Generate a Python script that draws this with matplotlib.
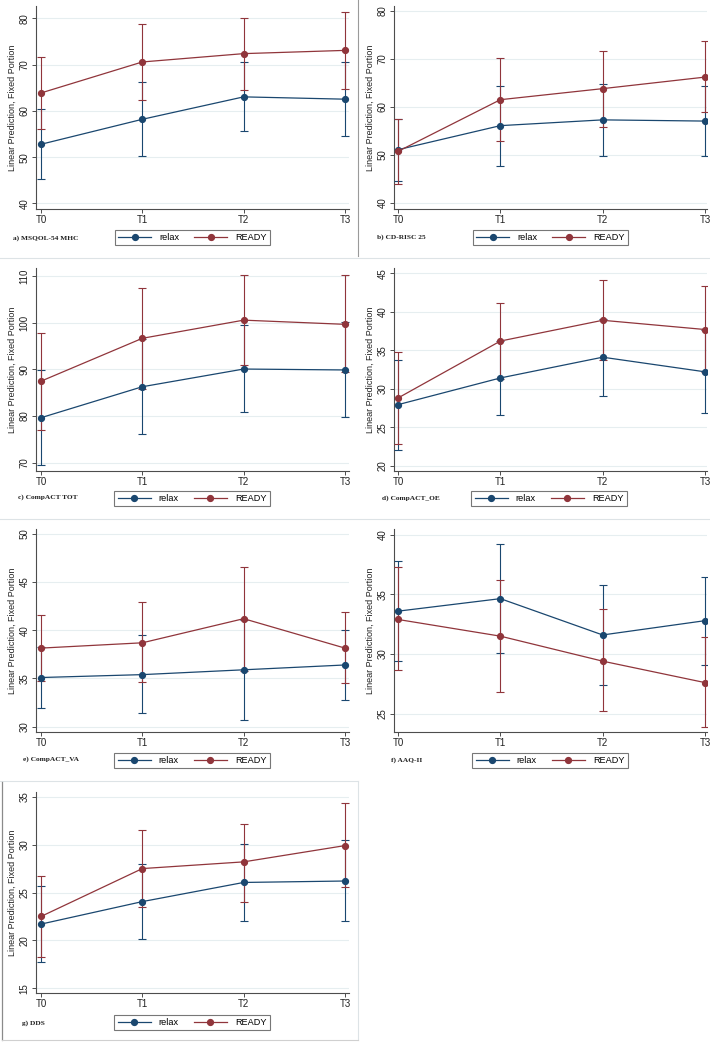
import matplotlib
matplotlib.use("Agg")
import matplotlib.pyplot as plt
from matplotlib.lines import Line2D

plt.rcParams['font.family'] = ['Liberation Sans', 'DejaVu Sans']

times = ["T0", "T1", "T2", "T3"]
groups = ["relax", "READY"]

# a) MSQOL-54 MHC
mhc_relax = [52.8, 58.2, 63.05, 62.55]
mhc_relax_lo = [45.2, 50.2, 55.6, 54.55]
mhc_relax_hi = [60.4, 66.2, 70.6, 70.6]
mhc_ready = [63.9, 70.6, 72.4, 73.1]
mhc_ready_lo = [56.2, 62.3, 64.6, 64.8]
mhc_ready_hi = [71.6, 78.9, 80.2, 81.4]

# b) CD-RISC 25
cdr_relax = [51.1, 56.1, 57.3, 57.05]
cdr_relax_lo = [44.5, 47.8, 49.7, 49.85]
cdr_relax_hi = [57.5, 64.4, 64.8, 64.3]
cdr_ready = [50.75, 61.5, 63.8, 66.2]
cdr_ready_lo = [44.0, 52.9, 55.9, 58.9]
cdr_ready_hi = [57.5, 70.1, 71.7, 73.7]

# c) CompACT TOT
tot_relax = [79.65, 86.3, 90.1, 89.9]
tot_relax_lo = [69.4, 76.1, 80.8, 79.7]
tot_relax_hi = [89.9, 96.5, 99.6, 100.1]
tot_ready = [87.5, 96.7, 100.6, 99.7]
tot_ready_lo = [77.0, 85.9, 91.0, 89.4]
tot_ready_hi = [97.9, 107.5, 110.3, 110.2]

# d) CompACT_OE
oe_relax = [27.93, 31.4, 34.1, 32.2]
oe_relax_lo = [22.07, 26.6, 29.1, 26.85]
oe_relax_hi = [33.8, 36.2, 39.1, 37.6]
oe_ready = [28.8, 36.2, 38.9, 37.7]
oe_ready_lo = [22.8, 31.2, 33.7, 32.2]
oe_ready_hi = [34.8, 41.2, 44.1, 43.3]

# e) CompACT_VA
va_relax = [35.1, 35.4, 35.9, 36.4]
va_relax_lo = [31.9, 31.4, 30.7, 32.8]
va_relax_hi = [38.3, 39.5, 41.1, 40.0]
va_ready = [38.15, 38.7, 41.2, 38.15]
va_ready_lo = [34.7, 34.6, 35.8, 34.5]
va_ready_hi = [41.6, 42.9, 46.6, 41.9]

# f) AAQ-II
aaq_relax = [33.6, 34.65, 31.6, 32.8]
aaq_relax_lo = [29.4, 30.05, 27.4, 29.1]
aaq_relax_hi = [37.8, 39.2, 35.8, 36.45]
aaq_ready = [32.9, 31.5, 29.4, 27.6]
aaq_ready_lo = [28.65, 26.8, 25.2, 23.9]
aaq_ready_hi = [37.3, 36.2, 33.8, 31.4]

# g) DDS
dds_relax = [21.7, 24.05, 26.05, 26.2]
dds_relax_lo = [17.7, 20.15, 22.05, 22.0]
dds_relax_hi = [25.7, 28.0, 30.1, 30.5]
dds_ready = [22.5, 27.5, 28.2, 29.9]
dds_ready_lo = [18.3, 23.5, 24.0, 25.55]
dds_ready_hi = [26.7, 31.5, 32.2, 34.3]

panel_titles = ["a) MSQOL-54 MHC", "b) CD-RISC 25", "c) CompACT TOT",
                "d) CompACT_OE", "e) CompACT_VA", "f) AAQ-II", "g) DDS"]
yticks_list = [[40, 50, 60, 70, 80], [40, 50, 60, 70, 80], [70, 80, 90, 100, 110],
               [20, 25, 30, 35, 40, 45], [30, 35, 40, 45, 50], [25, 30, 35, 40],
               [15, 20, 25, 30, 35]]

panels = [
    (mhc_relax, mhc_relax_lo, mhc_relax_hi, mhc_ready, mhc_ready_lo, mhc_ready_hi),
    (cdr_relax, cdr_relax_lo, cdr_relax_hi, cdr_ready, cdr_ready_lo, cdr_ready_hi),
    (tot_relax, tot_relax_lo, tot_relax_hi, tot_ready, tot_ready_lo, tot_ready_hi),
    (oe_relax, oe_relax_lo, oe_relax_hi, oe_ready, oe_ready_lo, oe_ready_hi),
    (va_relax, va_relax_lo, va_relax_hi, va_ready, va_ready_lo, va_ready_hi),
    (aaq_relax, aaq_relax_lo, aaq_relax_hi, aaq_ready, aaq_ready_lo, aaq_ready_hi),
    (dds_relax, dds_relax_lo, dds_relax_hi, dds_ready, dds_ready_lo, dds_ready_hi),
]

# layout (pixel boxes)
W, H = 710, 1043
boxes = [(36, 6, 349, 209), (394, 6, 707, 209), (36, 268, 349, 471),
         (394, 268, 707, 471), (36, 529, 349, 732), (394, 529, 707, 732),
         (36, 792, 349, 993)]
ylims = [(38.8, 82.7), (38.75, 81.0), (68.2, 111.8), (19.3, 45.7),
         (29.45, 50.5), (23.45, 40.5), (14.5, 35.5)]
xlims = [(-0.05, 3.04), (-0.04, 3.02), (-0.05, 3.04), (-0.04, 3.02),
         (-0.05, 3.04), (-0.04, 3.02), (-0.05, 3.04)]
leg_centers = [(192.5, 237.5), (550.5, 237.5), (192, 498.5), (549, 498.5),
               (192, 760.5), (550, 760.5), (192, 1022.5)]
label_pos = [(13, 238), (377, 237), (18, 497), (382, 498), (23, 759), (391, 760), (22, 1023)]

NAVY = "#1a476f"
MAROON = "#90353b"
AXC = "#4d4d4d"
GRID = "#e6eef0"

fig = plt.figure(figsize=(W / 100, H / 100), dpi=100)
fig.patch.set_facecolor("white")

for i, (vals, box) in enumerate(zip(panels, boxes)):
    x0, y0, x1, y1 = box
    ax = fig.add_axes([x0 / W, 1 - y1 / H, (x1 - x0) / W, (y1 - y0) / H])
    r, rlo, rhi, d, dlo, dhi = vals
    xs = list(range(len(times)))
    for m, lo, hi, col in ((r, rlo, rhi, NAVY), (d, dlo, dhi, MAROON)):
        err = [[mm - l for mm, l in zip(m, lo)], [h - mm for mm, h in zip(m, hi)]]
        ax.errorbar(xs, m, yerr=err, fmt="none", ecolor=col, elinewidth=0.8,
                    capsize=2.6, capthick=0.8, zorder=3)
    for m, col, lab in ((r, NAVY, groups[0]), (d, MAROON, groups[1])):
        ax.plot(xs, m, color=col, lw=0.9, marker="o", ms=4.2, mfc=col, mec=col,
                label=lab, zorder=4)
    ax.set_xlim(*xlims[i])
    ax.set_ylim(*ylims[i])
    ax.set_xticks(xs)
    ax.set_xticklabels(times, fontsize=7, color="#222222")
    ax.set_yticks(yticks_list[i])
    ax.set_yticklabels([str(t) for t in yticks_list[i]], fontsize=7, rotation=90,
                       va="center", color="#222222")
    for t in yticks_list[i]:
        ax.axhline(t, color=GRID, lw=0.8, zorder=0)
    for s in ("top", "right"):
        ax.spines[s].set_visible(False)
    for s in ("left", "bottom"):
        ax.spines[s].set_color(AXC)
        ax.spines[s].set_linewidth(0.8)
    ax.tick_params(axis="both", colors=AXC, length=3, width=0.7, pad=1.5,
                   labelcolor="#222222")
    ax.set_ylabel("Linear Prediction, Fixed Portion", fontsize=6.5, color="#222222",
                  labelpad=2)
    lx, ly = leg_centers[i]
    leg = ax.legend(loc="center", bbox_to_anchor=(lx / W, 1 - ly / H),
                    bbox_transform=fig.transFigure, ncol=2, fontsize=6.6,
                    frameon=True, fancybox=False, edgecolor="#555555",
                    handlelength=3.6, columnspacing=1.6, handletextpad=0.9,
                    borderpad=0.35, borderaxespad=0)
    leg.get_frame().set_linewidth(0.8)
    tx, ty = label_pos[i]
    fig.text(tx / W, 1 - ty / H, panel_titles[i], fontsize=5.3, fontweight="bold",
             family=["Liberation Serif", "DejaVu Serif"], va="center", ha="left",
             color="#222222")

# faint panel separators as in the composed figure
sep = "#dde3e6"
fig.add_artist(Line2D([358 / W, 358 / W], [1 - 0 / H, 1 - 256 / H], color="#9a9a9a", lw=0.8))
fig.add_artist(Line2D([0, 1], [1 - 258 / H, 1 - 258 / H], color=sep, lw=0.8))
fig.add_artist(Line2D([0, 1], [1 - 519 / H, 1 - 519 / H], color=sep, lw=0.8))
fig.add_artist(Line2D([0, 358 / W], [1 - 781 / H, 1 - 781 / H], color=sep, lw=0.8))
fig.add_artist(Line2D([358 / W, 358 / W], [1 - 781 / H, 1 - 1040 / H], color=sep, lw=0.8))
fig.add_artist(Line2D([2 / W, 2 / W], [1 - 782 / H, 1 - 1040 / H], color="#8a8a8a", lw=0.9))
fig.add_artist(Line2D([2 / W, 358 / W], [1 - 1040 / H, 1 - 1040 / H], color="#d0d0d0", lw=0.8))

fig.savefig("out.png", dpi=100, facecolor="white")
